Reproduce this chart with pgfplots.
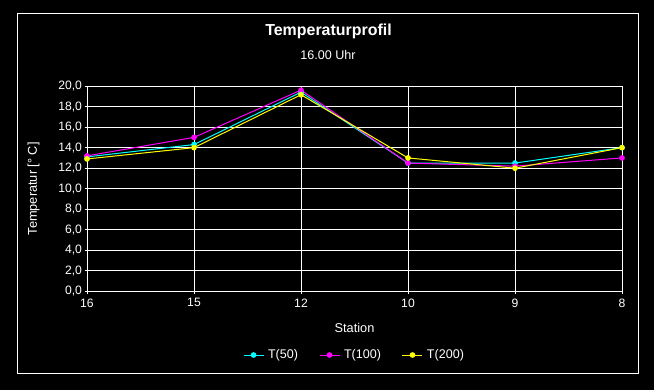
\documentclass[border=0pt]{standalone}
\usepackage{fontspec}
\setmainfont{Liberation Sans}
\usepackage{pgfplots}
\pgfplotsset{compat=1.18}
\definecolor{cy}{RGB}{0,255,255}
\definecolor{mg}{RGB}{255,0,255}
\definecolor{ye}{RGB}{255,255,0}
\begin{document}
\begin{tikzpicture}[x=1bp,y=1bp]
\fill[black] (0,0) rectangle (654,390);
\path[use as bounding box] (0,0) rectangle (654,390);
\draw[white,line width=1bp] (17.5,16.5) rectangle (638.5,376.5);
\node[white,font=\fontsize{16}{18}\selectfont\bfseries] at (328.5,358.3) {Temperaturprofil};
\node[white,font=\fontsize{12.6}{14}\selectfont] at (328,335) {16.00 Uhr};
\begin{axis}[
  at={(87bp,98.5bp)}, anchor=south west,
  scale only axis, width=535bp, height=205.5bp,
  xmin=0, xmax=5, ymin=0, ymax=20,
  xtick={0,1,2,3,4,5}, xticklabels={16,15,12,10,9,8},
  ytick={0,2,...,20},
  /pgf/number format/assume math mode=true,
  grid=major,
  major grid style={white,line width=1bp},
  axis line style={white,line width=1bp},
  tick style={white,line width=1bp},
  major tick length=2.5bp,
  tick align=outside,
  xtick pos=bottom, ytick pos=left,
  tick label style={white,font=\fontsize{12.2}{14}\selectfont},
  xticklabel style={yshift=-1bp},
  yticklabel style={xshift=1bp,/pgf/number format/.cd, fixed, fixed zerofill, precision=1, use comma},
  label style={white,font=\fontsize{12.8}{14}\selectfont},
  xlabel={Station},
  ylabel={Temperatur [° C]},
  xlabel style={at={(axis description cs:0.5,-0.178)},anchor=center},
  ylabel style={at={(axis description cs:-0.0998,0.5)},anchor=center,rotate=0},
  legend style={at={(axis description cs:0.5,-0.309)},anchor=center,draw=none,fill=none,
    text=white,font=\fontsize{12.6}{14}\selectfont,legend columns=3,
    /tikz/every odd column/.append style={column sep=2bp},
    /tikz/every even column/.append style={column sep=19bp}},
  legend image code/.code={\draw[#1] (0bp,0bp) -- (20bp,0bp); \draw[#1,mark repeat=1] plot coordinates {(10bp,0bp)};},
  every axis plot/.append style={line width=1bp, mark=*, mark size=2.3bp},
  clip=false,
]
\addplot[cy, mark options={fill=cy,draw=cy}] coordinates {(0,13.1) (1,14.3) (2,19.4) (3,12.5) (4,12.5) (5,14.0)};
\addlegendentry{T(50)}
\addplot[mg, mark options={fill=mg,draw=mg}] coordinates {(0,13.2) (1,15.0) (2,19.6) (3,12.5) (4,12.2) (5,13.0)};
\addlegendentry{T(100)}
\addplot[ye, mark options={fill=ye,draw=ye}] coordinates {(0,12.9) (1,14.0) (2,19.15) (3,13.0) (4,12.0) (5,14.0)};
\addlegendentry{T(200)}
\end{axis}
\end{tikzpicture}
\end{document}
